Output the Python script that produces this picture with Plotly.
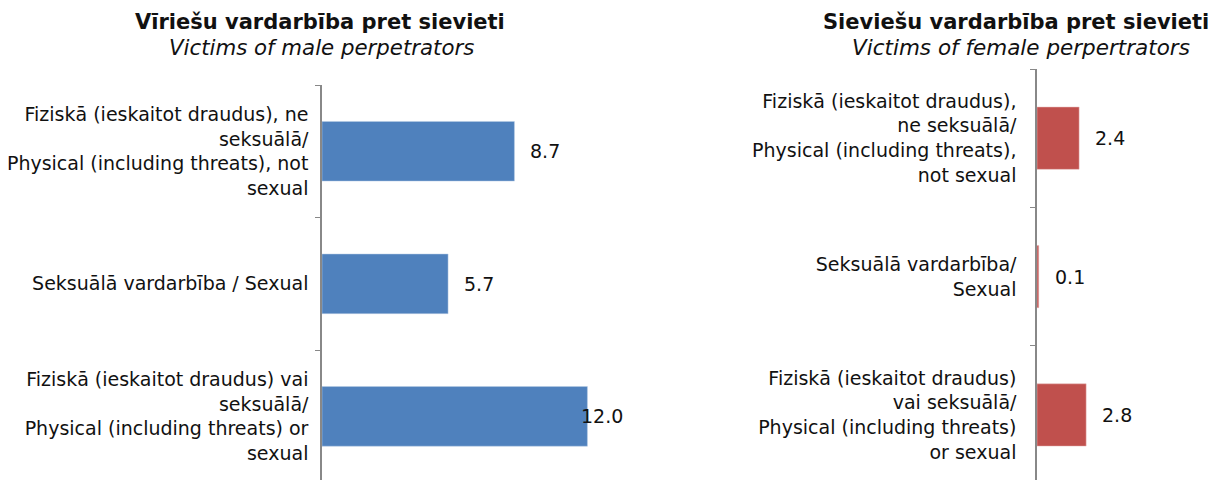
"""
Violence against women by perpetrator sex: two horizontal bar panels.
"""
import plotly.graph_objects as go

male_categories = [
    "Fiziskā (ieskaitot draudus), ne<br>seksuālā/<br>Physical (including threats), not<br>sexual",
    "Seksuālā vardarbība / Sexual",
    "Fiziskā (ieskaitot draudus) vai<br>seksuālā/<br>Physical (including threats) or<br>sexual",
]
male_values = [8.7, 5.7, 12.0]

female_categories = [
    "Fiziskā (ieskaitot draudus),<br>ne seksuālā/<br>Physical (including threats),<br>not sexual",
    "Seksuālā vardarbība/<br>Sexual",
    "Fiziskā (ieskaitot draudus)<br>vai seksuālā/<br>Physical (including threats)<br>or sexual",
]
female_values = [2.4, 0.1, 2.8]

male_title = "<b>Vīriešu vardarbība pret sievieti</b>"
male_subtitle = "<i>Victims of male perpetrators</i>"
female_title = "<b>Sieviešu vardarbība pret sievieti</b>"
female_subtitle = "<i>Victims of female perpertrators</i>"

BLUE = "#4F81BD"
RED = "#C0504D"
FONT = "DejaVu Sans"
# the page body adds an 8px margin, so the figure is 8px smaller
OFF = 8
W, H = 1216 - OFF, 480 - OFF


def px(x):
    return (x - OFF) / W


def py(y):
    return 1 - (y - OFF) / H


# x ranges (no tick labels shown, just scale)
male_xmax = 13.7
female_xmax = 10.2

fig = go.Figure()
fig.add_trace(go.Bar(
    x=male_values, y=male_categories, orientation="h",
    marker=dict(color=BLUE, line=dict(color="#B9CDE5", width=0.5)),
    width=0.45, xaxis="x", yaxis="y", hoverinfo="skip",
))
fig.add_trace(go.Bar(
    x=female_values, y=female_categories, orientation="h",
    marker=dict(color=RED, line=dict(color="#E6B9B8", width=0.5)),
    width=0.45, xaxis="x2", yaxis="y2", hoverinfo="skip",
))

# data labels, pushed inside the plot edge when they would overflow
annotations = []
for vals, xr, yr, xmax, pxu in [
    (male_values, "x", "y", male_xmax, 22.1),
    (female_values, "x2", "y2", female_xmax, 17.5),
]:
    for i, v in enumerate(vals):
        label = f"{v:.1f}"
        room = (xmax - v) * pxu
        if room > 16 + 40:
            annotations.append(dict(x=v, y=i, xref=xr, yref=yr, text=label,
                                    xanchor="left", xshift=14, showarrow=False))
        else:
            annotations.append(dict(x=xmax, y=i, xref=xr, yref=yr, text=label,
                                    xanchor="right", showarrow=False))

for txt, cx, cy, size in [
    (male_title, 320, 22, 21),
    (male_subtitle, 321, 47, 21.3),
    (female_title, 1016, 22, 21),
    (female_subtitle, 1021, 47, 21.5),
]:
    annotations.append(dict(x=px(cx), y=py(cy), xref="paper", yref="paper",
                            text=txt, showarrow=False, xanchor="center",
                            yanchor="middle", font=dict(size=size)))

axis_common = dict(
    showline=True, linecolor="#888888", linewidth=1.5,
    ticks="outside", ticklen=5, tickcolor="#888888", tickson="boundaries",
    showgrid=False, zeroline=False, fixedrange=True,
)

fig.update_layout(
    width=W, height=H,
    margin=dict(l=0, r=0, t=0, b=0),
    paper_bgcolor="white", plot_bgcolor="white",
    font=dict(family=FONT, size=19, color="#111111"),
    showlegend=False,
    annotations=annotations,
    xaxis=dict(domain=[px(322), px(625)], range=[0, male_xmax],
               visible=False, fixedrange=True),
    yaxis=dict(domain=[0, py(85)], range=[2.48, -0.5],
               ticklabelstandoff=8, **axis_common),
    xaxis2=dict(domain=[px(1037), 1.0], range=[0, female_xmax],
                visible=False, fixedrange=True),
    yaxis2=dict(domain=[0, py(69)], range=[2.47, -0.5],
                anchor="x2", ticklabelstandoff=15, **axis_common),
)

fig.write_html("out.html")
